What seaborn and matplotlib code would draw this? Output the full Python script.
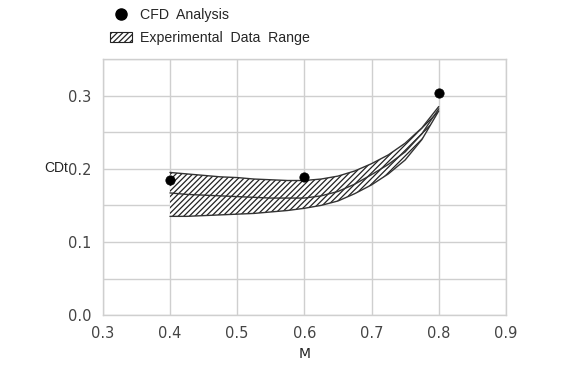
import matplotlib
matplotlib.use("Agg")
import matplotlib.pyplot as plt
import seaborn as sns
import pandas as pd
from matplotlib.patches import Patch
from matplotlib.lines import Line2D

# Data
band_m = [0.4, 0.425, 0.45, 0.475, 0.5, 0.525, 0.55, 0.575, 0.6, 0.625, 0.65, 0.675, 0.7, 0.725, 0.75, 0.775, 0.8]
band_upper = [0.195, 0.193, 0.191, 0.189, 0.188, 0.186, 0.185, 0.184, 0.184, 0.186, 0.190, 0.197, 0.207, 0.219, 0.235, 0.256, 0.285]
band_middle = [0.167, 0.165, 0.164, 0.163, 0.162, 0.161, 0.160, 0.160, 0.160, 0.163, 0.169, 0.179, 0.192, 0.206, 0.223, 0.248, 0.282]
band_lower = [0.135, 0.135, 0.136, 0.137, 0.138, 0.139, 0.141, 0.143, 0.146, 0.150, 0.156, 0.166, 0.178, 0.193, 0.212, 0.240, 0.279]
cfd_m = [0.4, 0.6, 0.8]
cfd_cdt = [0.184, 0.189, 0.303]
x_ticks = [0.3, 0.4, 0.5, 0.6, 0.7, 0.8, 0.9]
y_ticks = [0.0, 0.1, 0.2, 0.3]

sns.set_theme(style="whitegrid")
plt.rcParams['font.family'] = ['Liberation Sans', 'DejaVu Sans']
plt.rcParams['hatch.linewidth'] = 0.9
plt.rcParams['hatch.color'] = '#222222'

fig = plt.figure(figsize=(5.71, 3.69), dpi=100)
ax = fig.add_axes([0.180, 0.146, 0.706, 0.694])

band = pd.DataFrame({"M": band_m, "upper": band_upper, "middle": band_middle, "lower": band_lower})
cfd = pd.DataFrame({"M": cfd_m, "CDt": cfd_cdt})

ax.fill_between(band["M"], band["lower"], band["upper"], facecolor="white",
                edgecolor="#222222", hatch="//////", linewidth=0, zorder=2)
for col in ["upper", "middle", "lower"]:
    sns.lineplot(data=band, x="M", y=col, ax=ax, color="#333333", linewidth=1.0, zorder=3)
sns.scatterplot(data=cfd, x="M", y="CDt", ax=ax, color="black", s=45, edgecolor="black", zorder=4)

ax.set_xlim(0.3, 0.9)
ax.set_ylim(0.0, 0.35)
ax.set_xticks(x_ticks)
ax.set_xticklabels([f"{v:.1f}" for v in x_ticks])
ax.set_yticks([0.0, 0.05, 0.1, 0.15, 0.2, 0.25, 0.3, 0.35])
ax.set_yticklabels(["0.0", "", "0.1", "", "0.2", "", "0.3", ""])
ax.grid(True, color="#cfcfcf", linewidth=1.0)
for s in ax.spines.values():
    s.set_color("#cfcfcf")
    s.set_linewidth(1.0)
ax.tick_params(axis="both", length=0, labelsize=10.5, labelcolor="#444444", pad=8)
for lbl in ax.get_xticklabels() + ax.get_yticklabels():
    lbl.set_family("DejaVu Sans")
ax.set_xlabel("M", fontsize=10, color="#222222", family="DejaVu Sans", labelpad=4)
ax.set_ylabel("")
fig.text(0.099, 0.545, "CDt", fontsize=10, color="#222222", ha="center", va="center")

handles = [
    Line2D([0], [0], marker="o", color="none", markerfacecolor="black", markeredgecolor="black", markersize=8),
    Patch(facecolor="white", edgecolor="#222222", hatch="//////", linewidth=0.8),
]
fig.legend(handles, ["CFD  Analysis", "Experimental  Data  Range"], loc="upper left",
           bbox_to_anchor=(0.17, 1.012), frameon=False, fontsize=10.2,
           handlelength=1.6, handletextpad=0.5, labelspacing=0.6, borderpad=0.4)

fig.savefig("out.png", dpi=100)
